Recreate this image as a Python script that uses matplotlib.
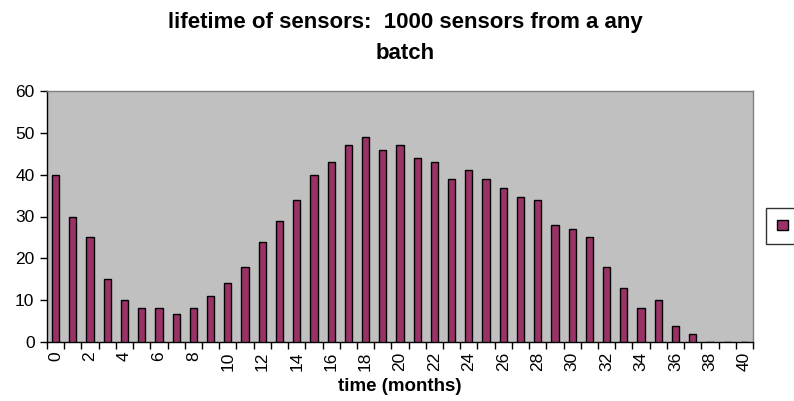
import matplotlib
matplotlib.use("Agg")
import matplotlib.pyplot as plt
from matplotlib.patches import Patch
import numpy as np

plt.rcParams['font.family'] = ['Liberation Sans', 'DejaVu Sans']

months = list(range(0, 41))
counts = [40, 30, 25, 15, 10, 8.2, 8.2, 6.8, 8.2, 11, 14, 18, 24, 29, 34, 40, 43, 47, 49, 46,
          47, 44, 43, 39, 41, 39, 36.7, 34.7, 34, 28, 27, 25, 18, 13, 8.2, 10, 3.9, 1.9, 0, 0, 0]
xtick_labels = [str(m) for m in range(0, 41, 2)]
yticks = [0, 10, 20, 30, 40, 50, 60]
title = "lifetime of sensors:  1000 sensors from a any\nbatch"
xlabel = "time (months)"

fig = plt.figure(figsize=(7.94, 4.01), dpi=100)
ax = fig.add_axes([47/794, 1-342/401, (753-47)/794, (342-91)/401])
ax.set_facecolor('#C0C0C0')

ax.bar(months, counts, width=0.42, color='#993366', edgecolor='black', linewidth=1.0, zorder=3)

ax.set_xlim(-0.5, 40.5)
ax.set_ylim(0, 60)
ax.set_yticks(yticks)
ax.set_yticklabels([str(v) for v in yticks], fontsize=12.5)
ax.set_xticks(list(range(0, 41, 2)))
ax.set_xticklabels(xtick_labels, rotation=90, fontsize=12.5)
ax.set_xticks(np.arange(-0.5, 41, 1), minor=True)
ax.tick_params(axis='x', which='major', length=0, pad=7)
ax.tick_params(axis='x', which='minor', length=5, width=1, direction='out', color='black')
ax.tick_params(axis='y', which='major', length=5, width=1, direction='out', pad=4)

for s in ['top', 'right']:
    ax.spines[s].set_color('#808080')
    ax.spines[s].set_linewidth(1)
for s in ['left', 'bottom']:
    ax.spines[s].set_color('black')
    ax.spines[s].set_linewidth(1)

ax.set_xlabel(xlabel, fontsize=13.5, fontweight='bold', labelpad=5)
fig.text(405/794, 1-38/401, title, ha='center', va='center', fontsize=16,
         fontweight='bold', linespacing=1.6)

leg = fig.legend(handles=[Patch(facecolor='#993366', edgecolor='black')], labels=[''],
                 loc='center left', bbox_to_anchor=(759/794, 1-226/401),
                 handlelength=0.8, handleheight=0.8, handletextpad=0.2,
                 borderpad=0.8, fancybox=False, frameon=True)
leg.get_frame().set_edgecolor('black')
leg.get_frame().set_linewidth(1)

fig.savefig('out.png', dpi=100)
